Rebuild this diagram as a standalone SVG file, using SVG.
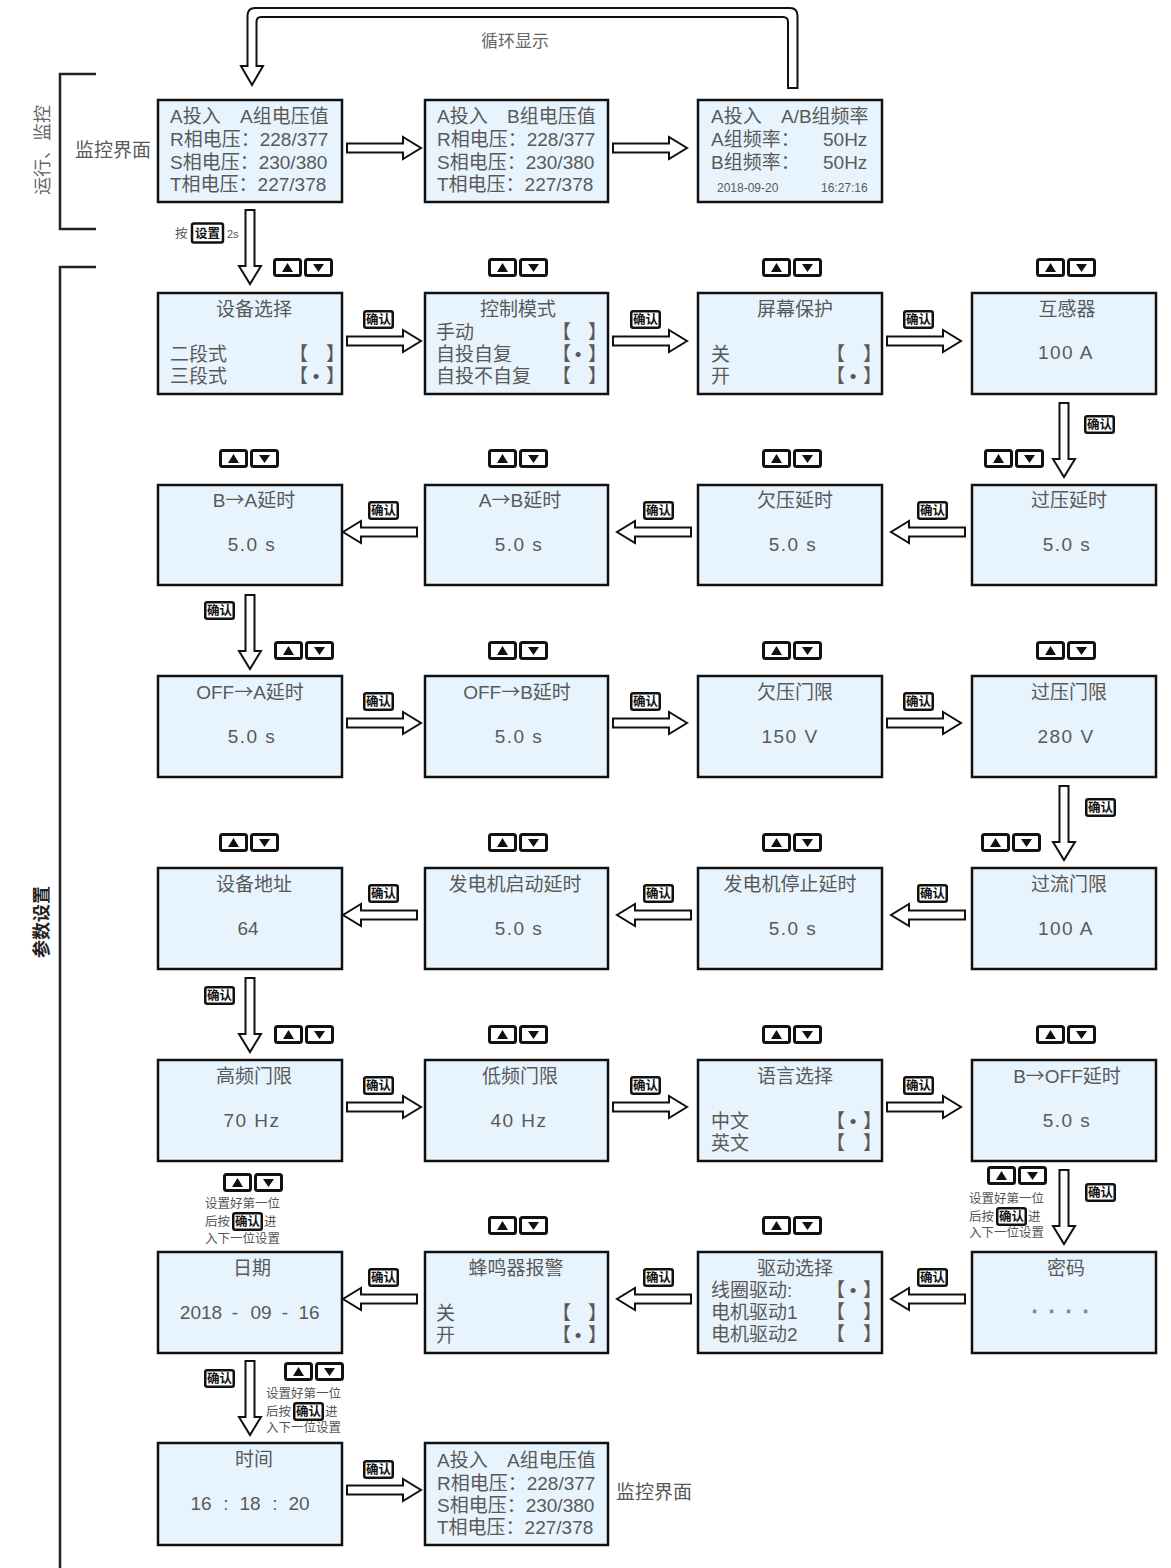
<svg xmlns="http://www.w3.org/2000/svg" width="1171" height="1568" viewBox="0 0 1171 1568">
<style>
.box{fill:#e8f4fd;stroke:#111;stroke-width:2.5}
.t{font-family:"Liberation Sans","Noto Sans CJK SC",sans-serif;font-size:19px;fill:#595959}
.cj{font-family:"Noto Sans CJK SC",sans-serif}
.c{text-anchor:middle}
.e{text-anchor:end}
.sm{font-size:12px}
.note{font-family:"Liberation Sans","Noto Sans CJK SC",sans-serif;font-size:12.5px;fill:#555}
.arr{fill:#fff;stroke:#111;stroke-width:2}
.btn{fill:#fff;stroke:#111;stroke-width:3}
.okb{fill:#fff;stroke:#111;stroke-width:2.5}
.okt{font-family:"Liberation Sans","Noto Sans CJK SC",sans-serif;font-size:12.5px;font-weight:bold;fill:#111;text-anchor:middle}
.ln{fill:none;stroke:#222;stroke-width:2.5}
.val{letter-spacing:1.5px}
</style>
<defs>
<path id="ar" class="arr" d="M0,-4.5 H56 V-11 L74,0 L56,11 V4.5 H0 Z"/>
<path id="al" class="arr" d="M74,-4.5 H18 V-11 L0,0 L18,11 V4.5 H74 Z"/>
<path id="ad" class="arr" d="M-4.5,0 V56 H-11 L0,74 L11,56 H4.5 V0 Z"/>
<g id="ud">
<rect class="btn" x="1.5" y="1.5" width="26" height="16" rx="2"/>
<rect class="btn" x="32.5" y="1.5" width="26" height="16" rx="2"/>
<path d="M14.5,5 L20,14 L9,14 Z" fill="#111"/>
<path d="M40,6 L51,6 L45.5,14 Z" fill="#111"/>
</g>
<g id="ok">
<rect class="okb" x="1.25" y="1.25" width="28.5" height="16.5" rx="2"/>
<text class="okt" x="15.5" y="14.3">确认</text>
</g>
</defs>

<!-- brackets and side labels -->
<g id="side">
<path class="ln" d="M96,74 H60 V229 H96"/>
<path class="ln" d="M96,267 H60 V1568"/>
<text class="t" transform="translate(49,150) rotate(-90)" text-anchor="middle" style="fill:#666;font-size:18px">运行、监控</text>
<text class="t" transform="translate(48,922) rotate(-90)" text-anchor="middle" style="fill:#222;font-size:18px;font-weight:bold">参数设置</text>
<text class="t" x="75" y="157">监控界面</text>
<text class="t" x="616" y="1499">监控界面</text>
<text class="t c" x="515" y="47" style="fill:#666;font-size:17px">循环显示</text>
</g>

<!-- connectors -->
<g id="connectors">
<path class="arr" d="M788,88 V22 Q788,17 783,17 H261 Q256.5,17 256.5,22 V66 H263 L252,85 L241,66 H247.5 V16 Q247.5,8 255,8 H790 Q797.5,8 797.5,16 V88 Z"/>
<use href="#ar" x="347" y="148"/>
<use href="#ar" x="613" y="148"/>
<use href="#ad" x="250" y="210"/>
<use href="#ar" x="347" y="341"/>
<use href="#ar" x="613" y="341"/>
<use href="#ar" x="887" y="341"/>
<use href="#ad" x="1064" y="403"/>
<use href="#al" x="343" y="532"/>
<use href="#al" x="617" y="532"/>
<use href="#al" x="891" y="532"/>
<use href="#ad" x="250" y="595"/>
<use href="#ar" x="347" y="723"/>
<use href="#ar" x="613" y="723"/>
<use href="#ar" x="887" y="723"/>
<use href="#ad" x="1064" y="786"/>
<use href="#al" x="343" y="915"/>
<use href="#al" x="617" y="915"/>
<use href="#al" x="891" y="915"/>
<use href="#ad" x="250" y="978"/>
<use href="#ar" x="347" y="1107"/>
<use href="#ar" x="613" y="1107"/>
<use href="#ar" x="887" y="1107"/>
<use href="#ad" x="1064" y="1170"/>
<use href="#al" x="343" y="1299"/>
<use href="#al" x="617" y="1299"/>
<use href="#al" x="891" y="1299"/>
<use href="#ad" x="250" y="1361"/>
<use href="#ar" x="347" y="1490"/>
</g>

<!-- labels on connectors -->
<g id="labels">
<text class="note" x="175" y="238">按</text>
<rect class="okb" x="192" y="223.5" width="31" height="19" rx="2"/>
<text class="okt" x="207.5" y="238">设置</text>
<text class="note" x="227" y="238" style="font-size:11px">2s</text>
<use href="#ok" x="363" y="310"/><use href="#ok" x="630" y="310"/><use href="#ok" x="903" y="310"/>
<use href="#ok" x="1084" y="415"/>
<use href="#ok" x="368" y="501"/><use href="#ok" x="643" y="501"/><use href="#ok" x="917" y="501"/>
<use href="#ok" x="204" y="601"/>
<use href="#ok" x="363" y="692"/><use href="#ok" x="630" y="692"/><use href="#ok" x="903" y="692"/>
<use href="#ok" x="1085" y="798"/>
<use href="#ok" x="368" y="884"/><use href="#ok" x="643" y="884"/><use href="#ok" x="917" y="884"/>
<use href="#ok" x="204" y="986"/>
<use href="#ok" x="363" y="1076"/><use href="#ok" x="630" y="1076"/><use href="#ok" x="903" y="1076"/>
<use href="#ok" x="1085" y="1183"/>
<use href="#ok" x="368" y="1268"/><use href="#ok" x="643" y="1268"/><use href="#ok" x="917" y="1268"/>
<use href="#ok" x="204" y="1369"/>
<use href="#ok" x="363" y="1460"/>

<use href="#ud" x="273" y="258"/><use href="#ud" x="488" y="258"/><use href="#ud" x="762" y="258"/><use href="#ud" x="1036" y="258"/>
<use href="#ud" x="219" y="449"/><use href="#ud" x="488" y="449"/><use href="#ud" x="762" y="449"/><use href="#ud" x="984" y="449"/>
<use href="#ud" x="274" y="641"/><use href="#ud" x="488" y="641"/><use href="#ud" x="762" y="641"/><use href="#ud" x="1036" y="641"/>
<use href="#ud" x="219" y="833"/><use href="#ud" x="488" y="833"/><use href="#ud" x="762" y="833"/><use href="#ud" x="981" y="833"/>
<use href="#ud" x="274" y="1025"/><use href="#ud" x="488" y="1025"/><use href="#ud" x="762" y="1025"/><use href="#ud" x="1036" y="1025"/>
<use href="#ud" x="223" y="1173"/><use href="#ud" x="488" y="1216"/><use href="#ud" x="762" y="1216"/><use href="#ud" x="987" y="1166"/>
<use href="#ud" x="284" y="1362"/>

<text class="note"><tspan x="205" y="1208">设置好第一位</tspan><tspan x="205" y="1226">后按</tspan><tspan x="264" y="1226">进</tspan><tspan x="205" y="1243">入下一位设置</tspan></text>
<use href="#ok" x="232" y="1212"/>

<text class="note"><tspan x="969" y="1203">设置好第一位</tspan><tspan x="969" y="1221">后按</tspan><tspan x="1028" y="1221">进</tspan><tspan x="969" y="1237">入下一位设置</tspan></text>
<use href="#ok" x="996" y="1207"/>

<text class="note"><tspan x="266" y="1398">设置好第一位</tspan><tspan x="266" y="1416">后按</tspan><tspan x="325" y="1416">进</tspan><tspan x="266" y="1432">入下一位设置</tspan></text>
<use href="#ok" x="293" y="1402"/>
</g>

<!-- row 0 monitor -->
<g id="mon-a">
<rect class="box" x="158" y="100" width="184" height="102"/>
<text class="t"><tspan x="170" y="123">A投入</tspan><tspan x="240" y="123">A组电压值</tspan><tspan x="170" y="146">R相电压：228/377</tspan><tspan x="170" y="169">S相电压：230/380</tspan><tspan x="170" y="191">T相电压：227/378</tspan></text>
</g>
<g id="mon-b">
<rect class="box" x="425" y="100" width="183" height="102"/>
<text class="t"><tspan x="437" y="123">A投入</tspan><tspan x="507" y="123">B组电压值</tspan><tspan x="437" y="146">R相电压：228/377</tspan><tspan x="437" y="169">S相电压：230/380</tspan><tspan x="437" y="191">T相电压：227/378</tspan></text>
</g>
<g id="mon-c">
<rect class="box" x="698" y="100" width="184" height="102"/>
<text class="t"><tspan x="711" y="123">A投入</tspan><tspan x="781" y="123">A/B组频率</tspan><tspan x="711" y="146">A组频率：</tspan><tspan x="823" y="146">50Hz</tspan><tspan x="711" y="169">B组频率：</tspan><tspan x="823" y="169">50Hz</tspan></text>
<text class="t sm"><tspan x="717" y="192">2018-09-20</tspan><tspan x="821" y="192">16:27:16</tspan></text>
</g>

<!-- row 1 -->
<g id="n-device">
<rect class="box" x="158" y="293" width="184" height="101"/>
<text class="t c" x="254" y="316">设备选择</text>
<text class="t"><tspan x="170" y="361">二段式</tspan><tspan x="289" y="361">【</tspan><tspan x="326" y="361">】</tspan><tspan x="170" y="383">三段式</tspan><tspan x="289" y="383">【</tspan><tspan x="312.7" y="383">•</tspan><tspan x="326" y="383">】</tspan></text>
</g>
<g id="n-mode">
<rect class="box" x="425" y="293" width="183" height="101"/>
<text class="t c" x="518" y="316">控制模式</text>
<text class="t"><tspan x="436" y="339">手动</tspan><tspan x="552" y="339">【</tspan><tspan x="588" y="339">】</tspan><tspan x="436" y="361">自投自复</tspan><tspan x="552" y="361">【</tspan><tspan x="574.7" y="361">•</tspan><tspan x="588" y="361">】</tspan><tspan x="436" y="383">自投不自复</tspan><tspan x="552" y="383">【</tspan><tspan x="588" y="383">】</tspan></text>
</g>
<g id="n-screen">
<rect class="box" x="698" y="293" width="184" height="101"/>
<text class="t c" x="795" y="316">屏幕保护</text>
<text class="t"><tspan x="711" y="361">关</tspan><tspan x="826" y="361">【</tspan><tspan x="863" y="361">】</tspan><tspan x="711" y="383">开</tspan><tspan x="826" y="383">【</tspan><tspan x="849.7" y="383">•</tspan><tspan x="863" y="383">】</tspan></text>
</g>
<g id="n-ct">
<rect class="box" x="972" y="293" width="184" height="101"/>
<text class="t c" x="1067" y="316">互感器</text>
<text class="t c val" x="1066" y="359">100 A</text>
</g>

<!-- row 2 -->
<g id="n-ba"><rect class="box" x="158" y="485" width="184" height="100"/>
<text class="t c" x="254" y="507">B<tspan class="cj">→</tspan>A延时</text><text class="t c val" x="252" y="551">5.0 s</text></g>
<g id="n-ab"><rect class="box" x="425" y="485" width="183" height="100"/>
<text class="t c" x="520" y="507">A<tspan class="cj">→</tspan>B延时</text><text class="t c val" x="519" y="551">5.0 s</text></g>
<g id="n-uvd"><rect class="box" x="698" y="485" width="184" height="100"/>
<text class="t c" x="795" y="507">欠压延时</text><text class="t c val" x="793" y="551">5.0 s</text></g>
<g id="n-ovd"><rect class="box" x="972" y="485" width="184" height="100"/>
<text class="t c" x="1069" y="507">过压延时</text><text class="t c val" x="1067" y="551">5.0 s</text></g>

<!-- row 3 -->
<g id="n-offa"><rect class="box" x="158" y="676" width="184" height="101"/>
<text class="t c" x="250" y="699">OFF<tspan class="cj">→</tspan>A延时</text><text class="t c val" x="252" y="743">5.0 s</text></g>
<g id="n-offb"><rect class="box" x="425" y="676" width="183" height="101"/>
<text class="t c" x="517" y="699">OFF<tspan class="cj">→</tspan>B延时</text><text class="t c val" x="519" y="743">5.0 s</text></g>
<g id="n-uvl"><rect class="box" x="698" y="676" width="184" height="101"/>
<text class="t c" x="795" y="699">欠压门限</text><text class="t c val" x="790" y="743">150 V</text></g>
<g id="n-ovl"><rect class="box" x="972" y="676" width="184" height="101"/>
<text class="t c" x="1069" y="699">过压门限</text><text class="t c val" x="1066" y="743">280 V</text></g>

<!-- row 4 -->
<g id="n-addr"><rect class="box" x="158" y="868" width="184" height="101"/>
<text class="t c" x="254" y="891">设备地址</text><text class="t c" x="248" y="935">64</text></g>
<g id="n-gstart"><rect class="box" x="425" y="868" width="183" height="101"/>
<text class="t c" x="515" y="891">发电机启动延时</text><text class="t c val" x="519" y="935">5.0 s</text></g>
<g id="n-gstop"><rect class="box" x="698" y="868" width="184" height="101"/>
<text class="t c" x="790" y="891">发电机停止延时</text><text class="t c val" x="793" y="935">5.0 s</text></g>
<g id="n-ocl"><rect class="box" x="972" y="868" width="184" height="101"/>
<text class="t c" x="1069" y="891">过流门限</text><text class="t c val" x="1066" y="935">100 A</text></g>

<!-- row 5 -->
<g id="n-hf"><rect class="box" x="158" y="1060" width="184" height="101"/>
<text class="t c" x="254" y="1083">高频门限</text><text class="t c val" x="252" y="1127">70 Hz</text></g>
<g id="n-lf"><rect class="box" x="425" y="1060" width="183" height="101"/>
<text class="t c" x="520" y="1083">低频门限</text><text class="t c val" x="519" y="1127">40 Hz</text></g>
<g id="n-lang"><rect class="box" x="698" y="1060" width="184" height="101"/>
<text class="t c" x="795" y="1083">语言选择</text>
<text class="t"><tspan x="711" y="1128">中文</tspan><tspan x="826" y="1128">【</tspan><tspan x="849.7" y="1128">•</tspan><tspan x="863" y="1128">】</tspan><tspan x="711" y="1150">英文</tspan><tspan x="826" y="1150">【</tspan><tspan x="863" y="1150">】</tspan></text>
</g>
<g id="n-boff"><rect class="box" x="972" y="1060" width="184" height="101"/>
<text class="t c" x="1067" y="1083">B<tspan class="cj">→</tspan>OFF延时</text><text class="t c val" x="1067" y="1127">5.0 s</text></g>

<!-- row 6 -->
<g id="n-date"><rect class="box" x="158" y="1252" width="184" height="101"/>
<text class="t c" x="252" y="1275">日期</text>
<text class="t c"><tspan x="201" y="1319">2018</tspan><tspan x="235" y="1319">-</tspan><tspan x="261" y="1319">09</tspan><tspan x="285" y="1319">-</tspan><tspan x="309" y="1319">16</tspan></text></g>
<g id="n-buzz"><rect class="box" x="425" y="1252" width="183" height="101"/>
<text class="t c" x="516" y="1275">蜂鸣器报警</text>
<text class="t"><tspan x="436" y="1320">关</tspan><tspan x="552" y="1320">【</tspan><tspan x="588" y="1320">】</tspan><tspan x="436" y="1342">开</tspan><tspan x="552" y="1342">【</tspan><tspan x="574.7" y="1342">•</tspan><tspan x="588" y="1342">】</tspan></text>
</g>
<g id="n-drive"><rect class="box" x="698" y="1252" width="184" height="101"/>
<text class="t c" x="795" y="1275">驱动选择</text>
<text class="t"><tspan x="711" y="1297">线圈驱动:</tspan><tspan x="826" y="1297">【</tspan><tspan x="849.7" y="1297">•</tspan><tspan x="863" y="1297">】</tspan><tspan x="711" y="1319">电机驱动1</tspan><tspan x="826" y="1319">【</tspan><tspan x="863" y="1319">】</tspan><tspan x="711" y="1341">电机驱动2</tspan><tspan x="826" y="1341">【</tspan><tspan x="863" y="1341">】</tspan></text>
</g>
<g id="n-pwd"><rect class="box" x="972" y="1252" width="184" height="101"/>
<text class="t c" x="1066" y="1275">密码</text>
<text class="t c" x="1066" y="1318" style="font-size:13px;letter-spacing:12px">****</text></g>

<!-- row 7 -->
<g id="n-time"><rect class="box" x="158" y="1443" width="184" height="102"/>
<text class="t c" x="254" y="1466">时间</text>
<text class="t c"><tspan x="201" y="1510">16</tspan><tspan x="226" y="1510">:</tspan><tspan x="250" y="1510">18</tspan><tspan x="275" y="1510">:</tspan><tspan x="299" y="1510">20</tspan></text></g>
<g id="mon-end">
<rect class="box" x="425" y="1443" width="183" height="102"/>
<text class="t"><tspan x="437" y="1467">A投入</tspan><tspan x="507" y="1467">A组电压值</tspan><tspan x="437" y="1490">R相电压：228/377</tspan><tspan x="437" y="1512">S相电压：230/380</tspan><tspan x="437" y="1534">T相电压：227/378</tspan></text>
</g>
</svg>
